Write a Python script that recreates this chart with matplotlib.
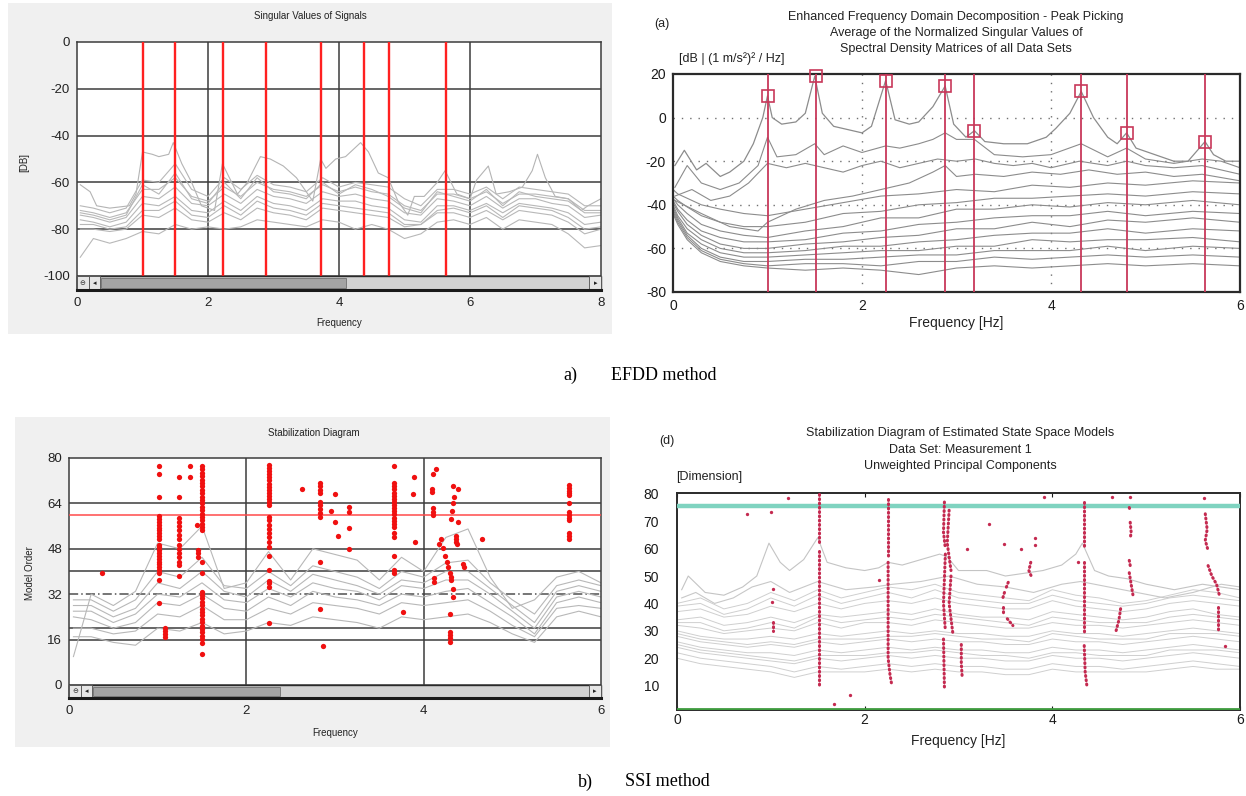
import matplotlib
matplotlib.use('Agg')
import matplotlib.pyplot as plt
from matplotlib.patches import Rectangle

plt.rcParams['axes.unicode_minus'] = False

# ---------------- DATA ----------------
# Panel A: Singular Values of Signals
a_peaks = [1.00, 1.50, 2.23, 2.88, 3.72, 4.38, 4.77, 5.63]
a_xticks = [0, 2, 4, 6, 8]
a_yticks = [0, -20, -40, -60, -80, -100]
a1_x = [0.05, 0.2, 0.3, 0.5, 0.8, 0.9, 1.0, 1.15, 1.25, 1.4, 1.47, 1.6, 1.75, 1.9, 2.1, 2.22, 2.45, 2.6, 2.8, 2.95,
        3.15, 3.35, 3.6, 3.72, 3.8, 3.95, 4.1, 4.33, 4.45, 4.6, 4.75, 4.9, 5.05, 5.15, 5.3, 5.5, 5.62, 5.8, 6.0, 6.1,
        6.28, 6.4, 6.6, 6.8, 6.95, 7.03, 7.15, 7.3, 7.5, 7.7, 7.8, 8.0]
a1_y = [-61, -64, -70, -71, -70, -65, -47, -48, -49, -48, -43, -52, -60, -70, -72, -52, -65, -60, -49, -50,
        -53, -58, -68, -50, -54, -50, -49, -43, -47, -56, -58, -68, -74, -66, -66, -60, -55, -65, -67, -59,
        -53, -65, -64, -62, -55, -48, -58, -66, -67, -72, -70, -67]
a_x = [0.05, 0.25, 0.5, 0.75, 1.0, 1.25, 1.5, 1.75, 2.0, 2.25, 2.5, 2.75, 3.0, 3.25, 3.5, 3.75, 4.0,
       4.25, 4.5, 4.75, 5.0, 5.25, 5.5, 5.75, 6.0, 6.25, 6.5, 6.75, 7.0, 7.25, 7.5, 7.75, 8.0]
a2 = [-70, -71, -73, -71, -59, -60, -52, -63, -66, -58, -63, -57, -61, -62, -64, -58, -62,
      -60, -61, -62, -67, -70, -63, -63, -65, -62, -67, -62, -63, -64, -65, -70, -70]
a3 = [-72, -73, -75, -73, -63, -63, -58, -66, -68, -62, -66, -60, -63, -64, -66, -61, -64,
      -62, -64, -65, -70, -72, -65, -65, -67, -64, -69, -65, -65, -66, -67, -72, -72]
a4 = [-74, -75, -77, -75, -66, -67, -62, -69, -70, -65, -69, -63, -66, -67, -69, -64, -66,
      -65, -67, -68, -73, -74, -67, -68, -70, -66, -71, -67, -67, -69, -70, -75, -74]
a5 = [-76, -77, -79, -77, -69, -70, -66, -72, -73, -68, -72, -66, -69, -70, -72, -67, -68,
      -68, -70, -71, -76, -77, -70, -70, -72, -69, -73, -69, -70, -71, -73, -78, -77]
a6 = [-80, -80, -81, -80, -74, -75, -71, -76, -77, -73, -76, -71, -73, -74, -76, -71, -72,
      -73, -74, -75, -79, -78, -73, -73, -75, -72, -76, -72, -73, -74, -77, -82, -80]
a7 = [-92, -84, -86, -84, -81, -82, -78, -80, -79, -80, -79, -76, -77, -78, -79, -76, -77,
      -80, -78, -80, -84, -82, -77, -76, -78, -75, -80, -76, -77, -78, -82, -88, -87]
a8 = [-73, -74, -76, -74, -61, -65, -56, -67, -69, -60, -67, -58, -64, -65, -67, -60, -65,
      -61, -63, -66, -71, -73, -64, -66, -68, -63, -70, -64, -66, -67, -68, -73, -73]
a9 = [-78, -78, -80, -79, -72, -72, -68, -74, -75, -70, -74, -68, -71, -72, -74, -69, -70,
      -71, -72, -73, -78, -78, -72, -71, -73, -70, -75, -70, -71, -72, -75, -80, -79]

# Panel B: EFDD peak picking
b_peak_f = [1.00, 1.51, 2.25, 2.88, 3.19, 4.32, 4.80, 5.63]
b_peak_db = [10, 19, 17, 14.5, -6, 12, -7, -11]
b_xticks = [0, 2, 4, 6]
b_yticks = [20, 0, -20, -40, -60, -80]
b1_x = [0.02, 0.12, 0.25, 0.35, 0.5, 0.6, 0.75, 0.85, 0.95, 1.0, 1.05, 1.15, 1.3, 1.4, 1.5, 1.58, 1.7, 1.9, 2.0, 2.1,
        2.25, 2.35, 2.5, 2.6, 2.75, 2.88, 2.97, 3.1, 3.19, 3.3, 3.5, 3.75, 3.95, 4.05, 4.2, 4.32, 4.45, 4.6, 4.7, 4.8,
        4.9, 5.1, 5.3, 5.45, 5.55, 5.63, 5.72, 5.85, 6.0]
b1_y = [-22, -15, -24, -21, -27, -25, -20, -12, 0, 10, 0, -3, -2, 2, 19, 2, -4, -6, -7, -4,
        17, -1, -3, -2, 5, 14.5, -3, -9, -6, -11, -12, -12, -9, -5, 2, 12, 0, -9, -12, -7,
        -14, -17, -20, -20, -15, -11, -17, -20, -20]
b2_x = [0.02, 0.15, 0.3, 0.5, 0.7, 0.9, 1.0, 1.1, 1.3, 1.5, 1.6, 1.8, 2.0, 2.25, 2.4, 2.6, 2.75, 2.88, 3.0, 3.19,
        3.4, 3.7, 4.0, 4.32, 4.6, 4.8, 5.0, 5.3, 5.6, 5.8, 6.0]
b2_y = [-32, -22, -30, -33, -30, -22, -9, -18, -17, -12, -17, -13, -16, -13, -14, -12, -10, -7, -10, -10,
        -17, -18, -17, -12, -18, -14, -19, -21, -19, -20, -23]
b3_x = [0.02, 0.2, 0.4, 0.6, 0.8, 1.0, 1.2, 1.4, 1.6, 1.8, 2.0, 2.2, 2.4, 2.6, 2.8, 3.0, 3.2, 3.4, 3.6, 3.8,
        4.0, 4.3, 4.6, 4.8, 5.0, 5.3, 5.6, 5.8, 6.0]
b3_y = [-36, -33, -38, -36, -30, -21, -23, -21, -23, -25, -22, -20, -23, -21, -19, -20, -19, -21, -22, -21,
        -23, -20, -22, -20, -22, -23, -22, -24, -26]
b4_x = [0.02, 0.3, 0.6, 0.9, 1.0, 1.3, 1.6, 1.9, 2.2, 2.5, 2.75, 2.88, 3.0, 3.2, 3.5, 3.8, 4.1, 4.4, 4.7, 5.0,
        5.3, 5.6, 6.0]
b4_y = [-38, -44, -50, -52, -48, -42, -38, -36, -33, -30, -25, -22, -27, -26, -27, -25, -26, -24, -26, -25,
        -27, -26, -29]
b_low_x = [0, 0.05, 0.15, 0.3, 0.5, 0.75, 1.0, 1.4, 1.8, 2.2, 2.6, 3.0, 3.4, 3.8, 4.2, 4.6, 5.0, 5.5, 6.0]
b_low1 = [-33, -35, -37, -40, -42, -44, -45, -42, -39, -36, -35, -33, -34, -31, -32, -30, -31, -29, -30]
b_low2 = [-36, -38, -41, -45, -48, -50, -50, -48, -44, -43, -40, -39, -37, -37, -36, -35, -36, -34, -35]
b_low3 = [-37, -40, -44, -49, -52, -54, -55, -52, -50, -46, -46, -42, -42, -40, -41, -39, -40, -38, -40]
b_low4 = [-38, -42, -47, -52, -55, -57, -57, -56, -53, -52, -49, -48, -46, -45, -45, -43, -45, -43, -44]
b_low5 = [-39, -43, -49, -54, -58, -60, -60, -58, -57, -55, -54, -51, -51, -48, -50, -47, -48, -46, -48]
b_low6 = [-40, -45, -51, -56, -60, -62, -62, -61, -59, -59, -57, -56, -54, -53, -53, -51, -53, -51, -52]
b_low7 = [-41, -46, -53, -58, -62, -64, -64, -63, -62, -61, -61, -59, -59, -56, -57, -56, -56, -55, -57]
b_low8 = [-42, -47, -54, -60, -64, -66, -66, -65, -65, -64, -63, -63, -61, -61, -61, -59, -61, -59, -60]
b_low9 = [-43, -48, -55, -61, -65, -67, -68, -67, -67, -68, -66, -66, -64, -65, -64, -63, -64, -63, -64]
b_low10 = [-44, -49, -56, -62, -66, -68, -69, -70, -69, -70, -72, -69, -68, -69, -68, -67, -68, -67, -68]

# Panel C: Stabilization Diagram (model order)
c_xticks = [0, 2, 4, 6]
c_yticks = [0, 16, 32, 48, 64, 80]
c_x = [0.05, 0.25, 0.5, 0.75, 1.0, 1.25, 1.5, 1.75, 2.0, 2.25, 2.5, 2.75, 3.0, 3.25, 3.5, 3.75, 4.0,
       4.25, 4.5, 4.75, 5.0, 5.25, 5.5, 5.75, 6.0]
c1 = [10, 32, 28, 33, 50, 48, 56, 34, 36, 47, 37, 48, 46, 44, 37, 45, 40, 52, 55, 38, 27, 30, 38, 40, 36]
c2 = [30, 30, 26, 30, 40, 38, 45, 35, 34, 40, 35, 42, 40, 38, 34, 40, 38, 43, 44, 36, 30, 25, 35, 37, 35]
c3 = [28, 28, 24, 27, 36, 34, 40, 33, 31, 37, 33, 39, 37, 35, 32, 37, 36, 40, 40, 34, 28, 22, 33, 35, 33]
c4 = [26, 26, 22, 25, 32, 31, 36, 30, 29, 34, 31, 36, 34, 33, 30, 35, 34, 37, 37, 32, 26, 20, 31, 33, 31]
c5 = [24, 23, 20, 22, 29, 28, 32, 27, 26, 31, 28, 33, 31, 30, 28, 32, 31, 33, 34, 29, 24, 18, 29, 31, 29]
c6 = [20, 20, 18, 19, 25, 24, 28, 23, 23, 27, 25, 29, 28, 27, 25, 29, 28, 29, 30, 26, 21, 17, 27, 28, 27]
c7 = [17, 17, 15, 14, 20, 19, 22, 18, 19, 22, 21, 24, 23, 22, 20, 24, 23, 24, 25, 22, 18, 15, 24, 26, 24]
c_dots_f = ([0.37]
            + [1.02] * 25 + [1.08] * 4 + [1.24] * 15 + [1.37] * 2 + [1.50] * 39 + [1.44] + [1.45] * 3
            + [2.26] * 28 + [2.63] + [2.83] * 11 + [2.86, 2.95, 3.00, 3.00, 3.03]
            + [3.16] * 4 + [3.67] * 21 + [3.77, 3.89, 3.88, 3.90]
            + [4.14, 4.10, 4.09, 4.09, 4.11, 4.11, 4.11, 4.20, 4.17, 4.12, 4.12]
            + [4.33, 4.39, 4.34, 4.33, 4.32, 4.31, 4.39, 4.36, 4.36, 4.37, 4.38, 4.22, 4.24, 4.26,
               4.28, 4.30, 4.31, 4.31, 4.33, 4.33, 4.30, 4.30, 4.30, 4.30, 4.30, 4.44, 4.45]
            + [4.66] + [5.64] * 13)
c_dots_o = ([39.5]
            + [77.2, 74.3, 66.4, 59.5, 58.5, 57.5, 56.5, 55.5, 54.5, 53.5, 52.5, 51.5, 49.5, 48.5, 47.5,
               46.5, 45.5, 44.5, 43.5, 42.5, 41.5, 40.5, 39.5, 37.0, 28.8]
            + [20.0, 19.0, 18.0, 17.0]
            + [73.2, 66.3, 58.8, 57.5, 56.0, 54.5, 53.0, 51.5, 49.5, 48.0, 46.5, 45.0, 43.5, 42.3, 38.5]
            + [77.2, 73.2]
            + [77.2, 76.0, 74.8, 73.6, 72.4, 71.2, 70.0, 68.8, 67.6, 66.4, 65.2, 64.0, 62.8, 61.6, 60.4,
               59.2, 58.0, 56.8, 55.6, 54.6, 43.5, 39.6, 32.9, 31.7, 30.5, 29.3, 28.1, 26.9, 25.7, 24.5,
               23.3, 22.1, 20.9, 19.7, 18.5, 17.3, 16.1, 14.9, 10.9]
            + [56.4] + [47.6, 46.4, 45.2]
            + [77.6, 76.5, 75.4, 74.3, 73.2, 72.1, 71.0, 69.9, 68.8, 67.7, 66.6, 65.5, 64.5, 63.5, 59.3,
               58.0, 56.5, 55.0, 53.5, 52.0, 50.5, 48.8, 45.5, 40.5, 36.8, 35.8, 34.7, 21.7]
            + [69.2]
            + [71.3, 70.0, 68.8, 67.6, 64.6, 63.5, 62.0, 60.5, 59.3, 43.5, 26.8]
            + [13.9, 61.3, 67.3, 57.5, 52.5]
            + [62.6, 61.1, 55.5, 47.8]
            + [77.2, 71.1, 70.0, 68.9, 67.8, 66.7, 65.6, 64.5, 63.4, 62.3, 61.2, 60.1, 59.0, 57.9, 56.8,
               55.7, 53.5, 52.3, 45.5, 40.5, 39.4]
            + [25.6, 73.2, 67.3, 50.5]
            + [76.0, 74.3, 69.0, 68.0, 62.3, 61.0, 59.9, 51.4, 49.6, 37.6, 36.4]
            + [70.2, 69.1, 66.4, 64.3, 61.3, 58.4, 57.5, 52.5, 51.5, 50.5, 49.6, 48.4, 45.5, 43.5,
               41.7, 39.4, 38.2, 37.0, 33.7, 31.1, 24.9, 18.8, 17.6, 16.4, 15.3, 42.7, 41.7]
            + [51.4]
            + [70.5, 69.5, 68.5, 67.5, 67.0, 64.3, 61.0, 60.0, 59.0, 58.2, 53.5, 52.5, 51.4])

# Panel D: Stabilization diagram of state space models
d_xticks = [0, 2, 4, 6]
d_yticks = [10, 20, 30, 40, 50, 60, 70, 80]
d1_x = [0.05, 0.12, 0.3, 0.5, 0.7, 0.85, 0.98, 1.1, 1.2, 1.35, 1.5, 1.6, 1.8, 2.0, 2.15, 2.25, 2.4, 2.6, 2.8, 2.88,
        3.0, 3.3, 3.5, 3.7, 3.9, 4.1, 4.25, 4.32, 4.45, 4.6, 4.8, 5.0, 5.3, 5.6, 5.8, 6.0]
d1_y = [45, 50, 44, 43, 46, 50, 62, 55, 52, 56, 64, 55, 53, 52, 53, 55, 54, 56, 58, 57,
        52, 52, 50, 51, 52, 54, 58, 62, 52, 50, 49, 47, 45, 47, 46, 45]
d2_x = [0.05, 0.2, 0.4, 0.6, 0.8, 1.0, 1.2, 1.5, 1.8, 2.1, 2.3, 2.6, 2.9, 3.2, 3.5, 3.8, 4.1, 4.3, 4.6, 4.9,
        5.2, 5.5, 5.8, 6.0]
d2_y = [42, 44, 40, 42, 46, 48, 44, 48, 45, 46, 47, 48, 50, 47, 46, 44, 47, 48, 46, 44, 42, 44, 47, 46]
d_x = [0, 0.25, 0.5, 0.75, 1.0, 1.25, 1.5, 1.75, 2.0, 2.25, 2.5, 2.75, 3.0, 3.25, 3.5, 3.75, 4.0,
       4.25, 4.5, 4.75, 5.0, 5.25, 5.5, 5.75, 6.0]
d3 = [40, 42, 38, 40, 44, 41, 45, 42, 44, 46, 45, 47, 44, 43, 42, 41, 45, 43, 42, 40, 41, 43, 45, 44, 42]
d4 = [37, 38, 35, 36, 39, 37, 40, 38, 40, 41, 40, 42, 40, 39, 38, 38, 41, 39, 38, 37, 38, 40, 41, 40, 39]
d5 = [34, 35, 32, 33, 35, 33, 36, 35, 36, 37, 36, 38, 36, 35, 35, 34, 37, 36, 35, 34, 35, 37, 38, 36, 35]
d6 = [32, 31, 29, 30, 31, 30, 33, 31, 33, 33, 32, 34, 33, 32, 31, 31, 33, 32, 32, 31, 32, 33, 34, 33, 32]
d7 = [30, 28, 27, 27, 28, 27, 29, 28, 29, 30, 29, 30, 29, 29, 28, 28, 30, 29, 29, 28, 29, 30, 31, 30, 29]
d8 = [28, 26, 25, 24, 25, 24, 26, 25, 26, 27, 26, 27, 26, 26, 25, 25, 27, 26, 26, 25, 26, 27, 28, 27, 26]
d9 = [26, 24, 23, 22, 22, 21, 23, 22, 23, 24, 23, 24, 23, 23, 22, 22, 24, 23, 23, 22, 23, 24, 25, 24, 23]
d10 = [24, 22, 21, 20, 19, 18, 20, 19, 20, 21, 20, 21, 20, 20, 19, 19, 21, 20, 20, 19, 20, 21, 22, 21, 20]
d11 = [22, 20, 19, 18, 17, 15, 17, 16, 17, 18, 17, 18, 17, 17, 16, 16, 18, 17, 17, 16, 17, 18, 19, 18, 17]
d12 = [39, 40, 36, 38, 42, 39, 43, 40, 42, 44, 42, 45, 42, 41, 40, 40, 43, 41, 40, 39, 40, 42, 43, 42, 41]
d13 = [33, 33, 30, 31, 33, 31, 35, 33, 34, 35, 34, 36, 35, 34, 33, 32, 35, 34, 33, 33, 33, 35, 36, 35, 34]
d14 = [29, 27, 26, 25, 26, 25, 27, 27, 27, 28, 28, 29, 28, 27, 27, 26, 29, 28, 27, 27, 27, 29, 29, 29, 28]
d15 = [25, 23, 22, 21, 20, 19, 21, 21, 21, 22, 22, 23, 22, 21, 21, 20, 22, 22, 21, 21, 21, 23, 23, 23, 22]
d16 = [20, 18, 17, 16, 15, 13, 15, 15, 15, 16, 15, 16, 15, 15, 14, 14, 16, 15, 15, 15, 15, 16, 17, 16, 16]
d_seg_f = [[1.51, 1.51], [1.51, 1.51], [2.25, 2.25], [2.25, 2.25, 2.27, 2.29],
           [2.85, 2.84, 2.86], [2.86, 2.84, 2.86], [2.84, 2.85], [2.90, 2.88, 2.92], [2.92, 2.90, 2.94],
           [3.03, 3.03, 3.04], [3.77, 3.75, 3.78], [3.53, 3.50], [3.49, 3.47], [3.47, 3.47], [3.52, 3.58],
           [4.34, 4.34], [4.34, 4.34], [4.34, 4.35, 4.37], [4.82, 4.83], [4.83, 4.84, 4.83], [4.82, 4.83],
           [4.82, 4.84, 4.86], [4.68, 4.71, 4.73], [5.63, 5.65, 5.63, 5.66], [5.66, 5.70, 5.75, 5.78],
           [5.77, 5.77], [1.02, 1.02]]
d_seg_o = [[80, 62], [59, 9.4], [78, 57], [55, 20, 14, 10],
           [77, 66, 60], [58, 40, 30], [27, 9.4], [74, 62, 52], [50, 40, 29],
           [25, 18, 12.7], [55, 52, 49.6], [47.7, 45], [44, 41.7], [38.6, 36.2], [34.4, 31.9],
           [77, 61], [55, 29.5], [24.6, 15, 9.4], [75, 73.5], [69.6, 66, 63.6], [55.7, 53.8],
           [51.2, 47, 42.9], [30.1, 34, 38.6], [72.7, 67, 63, 59.3], [53.8, 50, 47, 43],
           [38.6, 29.5], [33.1, 30.1]]
d_dot_f = [0.75, 1.00, 1.18, 1.02, 1.01, 1.67, 1.84, 2.15, 3.32, 3.09, 3.49, 3.67, 3.82, 3.82,
           3.91, 4.27, 4.64, 4.83, 5.62, 5.84]
d_dot_o = [72.7, 73.3, 78.4, 45.3, 40.7, 3.4, 6.6, 48.7, 69.0, 59.9, 61.7, 59.9, 63.8, 61.5,
           78.8, 55.2, 78.8, 78.8, 78.3, 24.6]

# ---------------- FIGURE ----------------
W, H = 1246, 796
fig = plt.figure(figsize=(W / 100, H / 100), dpi=100)
fig.patch.set_facecolor('white')
SANS = 'Liberation Sans'
SERIF = 'Liberation Serif'


def ax_px(x0, y0, x1, y1):
    return fig.add_axes([x0 / W, 1 - y1 / H, (x1 - x0) / W, (y1 - y0) / H])


def txt(x, y, s, **kw):
    kw.setdefault('family', SANS)
    fig.text(x / W, 1 - y / H, s, **kw)


# gray panel backgrounds for the left-hand screenshots
fig.add_artist(Rectangle((8 / W, 1 - 334 / H), 604 / W, 331 / H, transform=fig.transFigure,
                         facecolor='#f0f0f0', edgecolor='none', zorder=-5))
fig.add_artist(Rectangle((15 / W, 1 - 747 / H), 595 / W, 330 / H, transform=fig.transFigure,
                         facecolor='#f0f0f0', edgecolor='none', zorder=-5))

GRID_DARK = '#3c3c3c'
RED = '#ff2020'


def scrollbar(ax, x0, x1, y0, y1, thumb_end):
    h = y1 - y0
    span = x1 - x0
    ax.add_patch(Rectangle((x0, y0), span, h, facecolor='#d2d2d2', edgecolor='#2a2a2a', lw=1.0,
                           zorder=5, clip_on=False))
    ax.add_patch(Rectangle((x0 + 0.045 * span, y0 + 0.12 * h), thumb_end - (x0 + 0.045 * span), 0.76 * h,
                           facecolor='#a4a4a4', edgecolor='#707070', lw=0.6, zorder=6, clip_on=False))
    ax.add_patch(Rectangle((x0, y0), 0.022 * span, h, facecolor='#e6e6e6', edgecolor='#505050',
                           lw=0.6, zorder=6, clip_on=False))
    ax.add_patch(Rectangle((x0 + 0.022 * span, y0), 0.022 * span, h, facecolor='#e6e6e6',
                           edgecolor='#505050', lw=0.6, zorder=6, clip_on=False))
    ax.add_patch(Rectangle((x1 - 0.022 * span, y0), 0.022 * span, h, facecolor='#e6e6e6',
                           edgecolor='#505050', lw=0.6, zorder=6, clip_on=False))
    ax.text(x0 + 0.011 * span, y0 + h / 2, '\u2296', fontsize=5, ha='center', va='center', zorder=7,
            family='DejaVu Sans', color='#333333')
    ax.text(x0 + 0.033 * span, y0 + h / 2, '\u25c2', fontsize=5, ha='center', va='center', zorder=7,
            family='DejaVu Sans', color='#222222')
    ax.text(x1 - 0.011 * span, y0 + h / 2, '\u25b8', fontsize=5, ha='center', va='center', zorder=7,
            family='DejaVu Sans', color='#222222')
    ax.axhline(y0, color='#1a1a1a', lw=2.2, zorder=8, clip_on=False)


# ---- Panel A ----
axA = ax_px(77, 42, 601, 290)
axA.set_xlim(0, 8)
axA.set_ylim(-106, 0)
for y in a_yticks[1:]:
    axA.axhline(y, color=GRID_DARK, lw=1.1, zorder=1)
axA.vlines([2, 4, 6], -100, 0, color=GRID_DARK, lw=1.1, zorder=1)
axA.plot(a1_x, a1_y, color='#b4b4b4', lw=0.8, zorder=2)
for cv in [a2, a3, a8, a4, a5, a9, a6, a7]:
    axA.plot(a_x, cv, color='#b8b8b8', lw=0.8, zorder=2)
axA.vlines(a_peaks, -100, 0, color=RED, lw=1.7, zorder=3)
scrollbar(axA, 0, 8, -106, -100, 4.1)
axA.set_xticks(a_xticks)
axA.set_yticks(a_yticks)
axA.tick_params(length=0, labelsize=9.5, pad=5, colors='#222222')
for lab in axA.get_xticklabels() + axA.get_yticklabels():
    lab.set_family(SANS)
for sp in axA.spines.values():
    sp.set_color(GRID_DARK)
    sp.set_linewidth(1.1)
txt(310, 16, 'Singular Values of Signals', fontsize=7, ha='center', va='center', color='#222222')
txt(24, 163, '[DB]', fontsize=7, rotation=90, ha='center', va='center', color='#222222')
txt(339, 323, 'Frequency', fontsize=7, ha='center', va='center', color='#222222')

# ---- Panel B ----
CRIM = '#c8385a'
axB = ax_px(673, 74, 1240, 292)
axB.set_xlim(0, 6)
axB.set_ylim(-80, 20)
for y in [0, -20, -40, -60]:
    axB.axhline(y, color='#707070', lw=1.0, ls=(0, (1, 5)), zorder=1)
for x in [2, 4]:
    axB.axvline(x, color='#707070', lw=1.0, ls=(0, (1, 5)), zorder=1)
for cv in [b_low1, b_low2, b_low3, b_low4, b_low5, b_low6, b_low7, b_low8, b_low9, b_low10]:
    axB.plot(b_low_x, cv, color='#8c8c8c', lw=0.8, zorder=2)
axB.plot(b4_x, b4_y, color='#8c8c8c', lw=0.8, zorder=2)
axB.plot(b3_x, b3_y, color='#8c8c8c', lw=0.8, zorder=2)
axB.plot(b2_x, b2_y, color='#8c8c8c', lw=0.8, zorder=2)
axB.plot(b1_x, b1_y, color='#8c8c8c', lw=0.9, zorder=2)
axB.vlines(b_peak_f, -80, 20, color=CRIM, lw=1.3, zorder=3)
axB.plot(b_peak_f, b_peak_db, 's', mfc='none', mec=CRIM, ms=8, mew=1.2, zorder=4, clip_on=False)
axB.set_xticks(b_xticks)
axB.set_yticks(b_yticks)
axB.tick_params(length=0, labelsize=10, pad=5, colors='#1a1a1a')
for lab in axB.get_xticklabels() + axB.get_yticklabels():
    lab.set_family(SANS)
for sp in axB.spines.values():
    sp.set_color('#2a2a2a')
    sp.set_linewidth(1.6)
txt(662, 24, '(a)', fontsize=9, ha='center', va='center', color='#222222')
txt(956, 17, 'Enhanced Frequency Domain Decomposition - Peak Picking', fontsize=9, ha='center',
    va='center', color='#222222')
txt(956, 33, 'Average of the Normalized Singular Values of', fontsize=9, ha='center', va='center',
    color='#222222')
txt(956, 49, 'Spectral Density Matrices of all Data Sets', fontsize=9, ha='center', va='center',
    color='#222222')
txt(679, 59, '[dB | (1 m/s\u00b2)\u00b2 / Hz]', fontsize=9, ha='left', va='center', color='#222222')
txt(956, 323, 'Frequency [Hz]', fontsize=10, ha='center', va='center', color='#222222')

# ---- Panel C ----
axC = ax_px(69, 458, 601, 698)
axC.set_xlim(0, 6)
axC.set_ylim(-4.6, 80)
for y in [64, 48, 40, 20, 16]:
    axC.axhline(y, color=GRID_DARK, lw=1.1, zorder=1)
axC.axhline(32, color='#505050', lw=1.1, ls=(0, (6, 2, 1, 2)), zorder=1)
axC.axhline(0, color=GRID_DARK, lw=1.1, zorder=1)
axC.vlines([2, 4], 0, 80, color=GRID_DARK, lw=1.1, zorder=1)
for cv in [c1, c2, c3, c4, c5, c6, c7]:
    axC.plot(c_x, cv, color='#b8b8b8', lw=0.8, zorder=2)
axC.axhline(60, color='#ff4a4a', lw=1.1, zorder=3)
axC.plot(c_dots_f, c_dots_o, 'o', color='#f01010', ms=3.8, mew=0, zorder=4)
scrollbar(axC, 0, 6, -4.6, 0, 2.38)
axC.set_xticks(c_xticks)
axC.set_yticks(c_yticks)
axC.tick_params(length=0, labelsize=9.5, pad=5, colors='#222222')
for lab in axC.get_xticklabels() + axC.get_yticklabels():
    lab.set_family(SANS)
for sp in axC.spines.values():
    sp.set_color(GRID_DARK)
    sp.set_linewidth(1.1)
txt(314, 433, 'Stabilization Diagram', fontsize=7, ha='center', va='center', color='#222222')
txt(30, 573, 'Model Order', fontsize=7, rotation=90, ha='center', va='center', color='#222222')
txt(335, 733, 'Frequency', fontsize=7, ha='center', va='center', color='#222222')

# ---- Panel D ----
DRED = '#c42a50'
axD = ax_px(677, 493, 1240, 710)
axD.set_xlim(0, 6)
axD.set_ylim(1.1, 80.3)
for cv in [d16, d11, d15, d10, d9, d14, d8, d7, d6, d13, d5, d4, d12, d3]:
    axD.plot(d_x, cv, color='#cfcfcf', lw=0.7, zorder=2)
axD.plot(d2_x, d2_y, color='#c8c8c8', lw=0.8, zorder=2)
axD.plot(d1_x, d1_y, color='#c4c4c4', lw=0.8, zorder=2)
axD.axhline(75.5, color='#7fd3c0', lw=3.2, zorder=3)
axD.axhline(1.4, color='#3e9a3e', lw=2.0, zorder=3)
for fs, os_ in zip(d_seg_f, d_seg_o):
    axD.plot(fs, os_, color=DRED, lw=2.2, ls=(0, (0.3, 1.1)), dash_capstyle='round', zorder=4)
axD.plot(d_dot_f, d_dot_o, 'o', color=DRED, ms=2.4, mew=0, zorder=4)
axD.set_xticks(d_xticks)
axD.set_yticks(d_yticks)
axD.tick_params(axis='x', length=3, direction='in', top=True, labelsize=10, pad=2, colors='#1a1a1a')
axD.tick_params(axis='y', length=0, labelsize=10, pad=13, colors='#1a1a1a')
for lab in axD.get_xticklabels() + axD.get_yticklabels():
    lab.set_family(SANS)
for sp in axD.spines.values():
    sp.set_color('#2a2a2a')
    sp.set_linewidth(1.4)
txt(667, 441, '(d)', fontsize=9, ha='center', va='center', color='#222222')
txt(960, 433, 'Stabilization Diagram of Estimated State Space Models', fontsize=9, ha='center',
    va='center', color='#222222')
txt(960, 450, 'Data Set: Measurement 1', fontsize=9, ha='center', va='center', color='#222222')
txt(960, 466, 'Unweighted Principal Components', fontsize=9, ha='center', va='center', color='#222222')
txt(676, 477, '[Dimension]', fontsize=9, ha='left', va='center', color='#222222')
txt(958, 741, 'Frequency [Hz]', fontsize=10, ha='center', va='center', color='#222222')

# ---- Captions ----
txt(563, 375, 'a)', fontsize=13, ha='left', va='center', family=SERIF, color='black')
txt(611, 375, 'EFDD method', fontsize=13, ha='left', va='center', family=SERIF, color='black')
txt(578, 782, 'b)', fontsize=13, ha='left', va='center', family=SERIF, color='black')
txt(625, 782, 'SSI method', fontsize=13, ha='left', va='center', family=SERIF, color='black')

fig.savefig('out.png', dpi=100, facecolor='white')
